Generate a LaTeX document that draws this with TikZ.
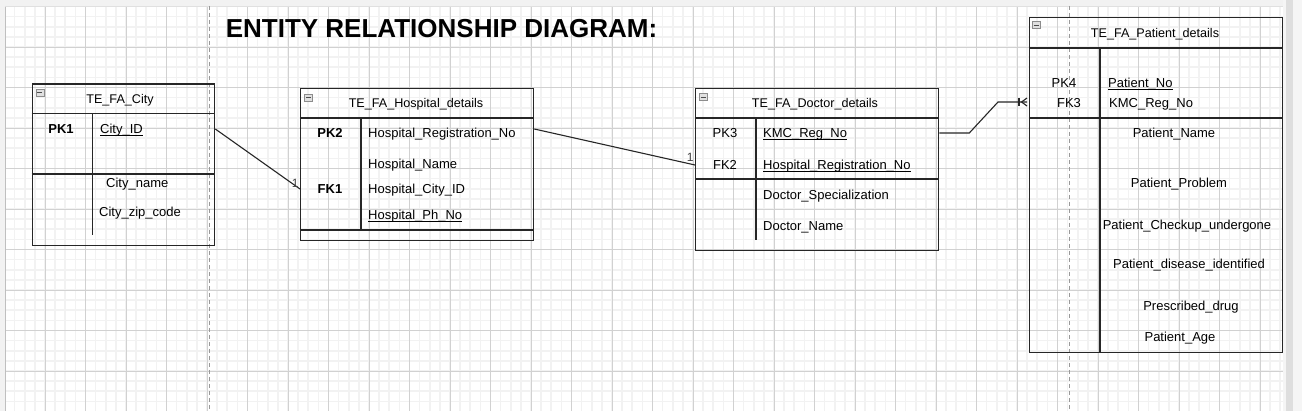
\documentclass[tikz,border=0pt]{standalone}
\usepackage{fontspec}
\setmainfont{Liberation Sans}
\usetikzlibrary{positioning,calc}
\newsavebox{\ulbox}
\newcommand{\keyul}[1]{\sbox{\ulbox}{#1}\rlap{\rule[-2.3pt]{\wd\ulbox}{0.8pt}}\usebox{\ulbox}}

\begin{document}
\begin{tikzpicture}[x=1pt,y=-1pt,
			tbl/.style={draw=black!85,line width=1.3pt},
			fld/.style={anchor=west,inner sep=0pt,text height=9.3pt,text depth=0pt,font=\fontsize{13}{15}\selectfont},
			cfld/.style={fld,anchor=center},
			keyb/.style={cfld,font=\bfseries\fontsize{13}{15}\selectfont},
			ttl/.style={cfld,font=\fontsize{12.6}{15}\selectfont},
			rel/.style={draw=black!85,line width=1.1pt},
			mult/.style={anchor=south east,inner sep=1pt,font=\fontsize{12}{14}\selectfont,text=black!75},
			minus/.style={draw=black!45,fill=black!12,minimum width=8pt,minimum height=7pt,inner sep=0pt,
				path picture={\draw[black!70] ([xshift=1.5pt]path picture bounding box.west) -- ([xshift=-1.5pt]path picture bounding box.east);}}
		]
			\useasboundingbox (0,0) rectangle (1302,411);
			\fill[white] (0,0) rectangle (1302,411);
			\fill[black!5] (0,0) rectangle (1302,6);
			\fill[black!5] (0,0) rectangle (5,411);
			\begin{scope}
				\clip (5,6) rectangle (1283,411);
				\foreach \i in {0,...,126} \draw[black!5,line width=1.6pt] ({4.5+10.125*\i},6) -- ++(0,405);
				\foreach \j in {0,...,39} \draw[black!5,line width=1.6pt] (5,{6.5+10.125*\j}) -- ++(1278,0);
				\foreach \i in {0,...,31} \draw[black!18,line width=0.8pt] ({4.5+40.5*\i},6) -- ++(0,405);
				\foreach \j in {0,...,10} \draw[black!18,line width=0.8pt] (5,{6.5+40.5*\j}) -- ++(1278,0);
			\end{scope}
			\draw[black!25] (5,6) -- (5,411);
			\draw[black!12] (5,6) -- (1283,6);
			\fill[black!4] (1283,0) rectangle (1302,411);
			\fill[black!13] (1286,0) rectangle (1293,411);
			\draw[black!40,line width=1pt,dash pattern=on 4pt off 3pt] (209,6) -- (209,411);
			\draw[black!40,line width=1pt,dash pattern=on 4pt off 3pt] (1069,6) -- (1069,411);

			\node[font=\bfseries\fontsize{26}{30}\selectfont,inner sep=0pt,text height=18.6pt,text depth=0pt] (erdtitle) at (441.5,28.5) {ENTITY RELATIONSHIP DIAGRAM:};

			\node[tbl,anchor=north west,minimum width=182.3pt,minimum height=161.7pt,inner sep=0pt] (city) at (31.7,83.3) {};
			\draw[tbl] (31.7,113.3) -- (214,113.3);
			\draw[tbl] (31.7,174) -- (214,174);
			\draw[tbl] (92.3,113.3) -- (92.3,235);
			\node[minus] (cityminus) at (39.7,92.3) {};
			\node[ttl] (citytitle) at (120,99) {TE\_FA\_City};
			\node[keyb] (citypk) at (61,129) {PK1};
			\node[fld] (cityid) at (100,129) {\keyul{City\_ID}};
			\node[fld] (cityname) at (106,183) {City\_name};
			\node[fld] (cityzip) at (99,212) {City\_zip\_code};

			\node[tbl,anchor=north west,minimum width=233pt,minimum height=152pt,inner sep=0pt] (hosp) at (300,88) {};
			\draw[tbl] (300,118) -- (533,118);
			\draw[tbl] (300,230) -- (533,230);
			\draw[tbl] (361,118) -- (361,230);
			\node[minus] (hospminus) at (308.5,97.5) {};
			\node[ttl] (hosptitle) at (416,103) {TE\_FA\_Hospital\_details};
			\node[keyb] (hosppk) at (330,133) {PK2};
			\node[fld] (hregno) at (368,133) {Hospital\_Registration\_No};
			\node[fld] (hname) at (368,164) {Hospital\_Name};
			\node[keyb] (hospfk) at (330,189) {FK1};
			\node[fld] (hcity) at (368,189) {Hospital\_City\_ID};
			\node[fld] (hphone) at (368,215) {\keyul{Hospital\_Ph\_No}};

			\node[tbl,anchor=north west,minimum width=243pt,minimum height=162pt,inner sep=0pt] (doc) at (695,88) {};
			\draw[tbl] (695,118) -- (938,118);
			\draw[tbl] (695,179) -- (938,179);
			\draw[tbl] (756,118) -- (756,240);
			\node[minus] (docminus) at (703,97) {};
			\node[ttl] (doctitle) at (815,103) {TE\_FA\_Doctor\_details};
			\node[cfld] (docpk) at (725,133) {PK3};
			\node[fld] (dkmc) at (763,133) {\keyul{KMC\_Reg\_No}};
			\node[cfld] (docfk) at (725,165) {FK2};
			\node[fld] (dhreg) at (763,165) {\keyul{Hospital\_Registration\_No}};
			\node[fld] (dspec) at (763,195) {Doctor\_Specialization};
			\node[fld] (dname) at (763,226) {Doctor\_Name};

			\node[tbl,anchor=north west,minimum width=253pt,minimum height=335pt,inner sep=0pt] (pat) at (1029,17) {};
			\draw[tbl] (1029,48) -- (1282,48);
			\draw[tbl] (1029,118) -- (1282,118);
			\draw[tbl] (1100,48) -- (1100,352);
			\node[minus] (patminus) at (1036,25) {};
			\node[ttl] (pattitle) at (1155,33) {TE\_FA\_Patient\_details};
			\node[cfld] (patpk) at (1064,83) {PK4};
			\node[fld] (pno) at (1108,83) {\keyul{Patient\_No}};
			\node[cfld] (patfk) at (1069,103) {FK3};
			\node[fld] (pfk3) at (1109,103) {KMC\_Reg\_No};
			\node[cfld] (pname) at (1174,133) {Patient\_Name};
			\node[cfld] (pproblem) at (1179,183) {Patient\_Problem};
			\node[cfld] (pcheckup) at (1187,225) {Patient\_Checkup\_undergone};
			\node[cfld] (pdisease) at (1189,264) {Patient\_disease\_identified};
			\node[cfld] (pdrug) at (1191,306) {Prescribed\_drug};
			\node[cfld] (page) at (1180,337) {Patient\_Age};

			\draw[rel] (city.east |- cityid) -- (hosp.west |- hcity) node[mult] {1};
			\draw[rel] ($(hosp.east |- hregno)+(0,-4)$) -- (doc.west |- dhreg) node[mult,yshift=2pt] {1};
			\draw[rel] (doc.east |- dkmc) -- ++(30,0) -- ($(pat.west |- pfk3)+(-31,-1)$) -- ($(pat.west |- pfk3)+(-2,-1)$) coordinate (ptip);
			\draw[rel] ($(ptip)+(-8,-4)$) -- ++(0,8);
			\draw[rel] ($(ptip)+(0,-4)$) -- ($(ptip)+(-5.5,0)$) -- ($(ptip)+(0,4)$);
		\end{tikzpicture}
\end{document}
